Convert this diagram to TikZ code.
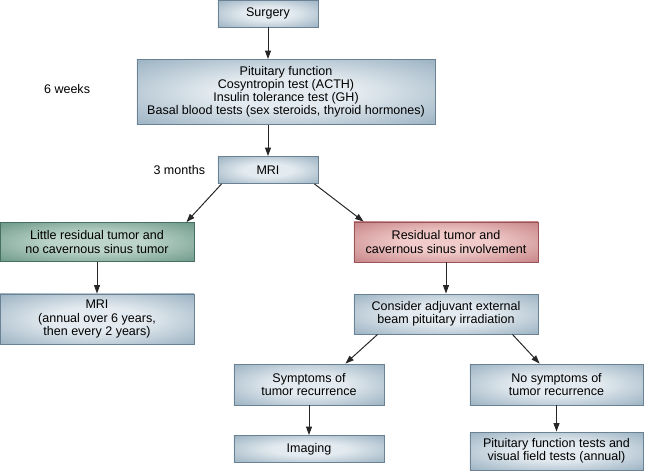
\documentclass[tikz,border=0pt]{standalone}
\usepackage{fontspec}
\setmainfont{Liberation Sans}
\usepackage{tikz}
\usetikzlibrary{arrows.meta,positioning,calc}

\definecolor{bluein}{HTML}{E4EBF0}
\definecolor{blueout}{HTML}{88A3B6}
\definecolor{blueline}{HTML}{6A8293}
\definecolor{greenin}{HTML}{BCD4CA}
\definecolor{greenout}{HTML}{578877}
\definecolor{greenline}{HTML}{45705F}
\definecolor{redin}{HTML}{F0CBC9}
\definecolor{redout}{HTML}{BC7075}
\definecolor{redline}{HTML}{995458}

\pgfdeclareradialshading{blueshade}{\pgfpoint{0bp}{0bp}}{color(0bp)=(bluein); color(12bp)=(bluein); color(42bp)=(blueout); color(60bp)=(blueout)}
\pgfdeclareradialshading{greenshade}{\pgfpoint{0bp}{0bp}}{color(0bp)=(greenin); color(12bp)=(greenin); color(42bp)=(greenout); color(60bp)=(greenout)}
\pgfdeclareradialshading{redshade}{\pgfpoint{0bp}{0bp}}{color(0bp)=(redin); color(12bp)=(redin); color(42bp)=(redout); color(60bp)=(redout)}

\begin{document}
\begin{tikzpicture}[x=0.025cm, y=-0.025cm,
                    font=\fontsize{8.9}{9.3}\selectfont,
                    box/.style={draw=blueline, line width=0.6pt, shading=blueshade, align=center, inner sep=1pt},
                    greenbox/.style={box, draw=greenline, shading=greenshade},
                    redbox/.style={box, draw=redline, shading=redshade},
                    arr/.style={-{Triangle[length=6pt, width=4.2pt]}, line width=0.7pt, draw=black!85},
                    timelabel/.style={anchor=east}]

    \useasboundingbox (0,0) rectangle (650,474);

    % main column
    \node[box, minimum width=2.5cm, minimum height=0.675cm] (surgery) at (268,13.5) {Surgery};
    \node[box, minimum width=7.45cm, minimum height=1.625cm] (pit) at (286,92)
        {Pituitary function\\ Cosyntropin test (ACTH)\\ Insulin tolerance test (GH)\\ Basal blood tests (sex steroids, thyroid hormones)};
    \node[box, minimum width=2.5cm, minimum height=0.675cm] (mri) at (268,170) {MRI};

    \node[timelabel] (weeks) at (95,89) {6 weeks};
    \node[timelabel] (months) at (210,170) {3 months};

    % left branch
    \node[greenbox, minimum width=4.85cm, minimum height=0.975cm] (little) at (97,242)
        {Little residual tumor and\\ no cavernous sinus tumor};
    \node[box, minimum width=4.85cm, minimum height=1.25cm] (annual) at (97,319)
        {MRI\\ (annual over 6 years,\\ then every 2 years)};

    % right branch
    \node[redbox, minimum width=4.6cm, minimum height=1cm] (resid) at (446,242)
        {Residual tumor and\\ cavernous sinus involvement};
    \node[box, minimum width=4.6cm, minimum height=1cm] (consider) at (446,314)
        {Consider adjuvant external\\ beam pituitary irradiation};

    \node[box, minimum width=3.75cm, minimum height=1.025cm] (sympt) at (309,384.5)
        {Symptoms of\\ tumor recurrence};
    \node[box, minimum width=3.75cm, minimum height=0.675cm] (imaging) at (309,449) {Imaging};
    \node[box, minimum width=4.325cm, minimum height=1.025cm] (nosympt) at (556.5,384.5)
        {No symptoms of\\ tumor recurrence};
    \node[box, minimum width=4.325cm, minimum height=0.95cm] (pittests) at (556.5,451)
        {Pituitary function tests and\\ visual field tests (annual)};

    % arrows
    \draw[arr] (surgery.south) -- (surgery.south |- pit.north);
    \draw[arr] (pit.south -| mri) -- (mri.north);
    \draw[arr] ([xshift=0.1cm]mri.south west) -- ([xshift=-0.2cm]little.north east);
    \draw[arr] ([xshift=-0.1cm]mri.south east) -- ([xshift=0.25cm]resid.north west);
    \draw[arr] (little.south) -- (annual.north);
    \draw[arr] (resid.south) -- (consider.north);
    \draw[arr] ([xshift=0.6cm]consider.south west) -- ([xshift=-0.975cm]sympt.north east);
    \draw[arr] ([xshift=-0.65cm]consider.south east) -- ([xshift=1.75cm]nosympt.north west);
    \draw[arr] (sympt.south) -- (imaging.north);
    \draw[arr] (nosympt.south) -- (pittests.north);

\end{tikzpicture}
\end{document}
